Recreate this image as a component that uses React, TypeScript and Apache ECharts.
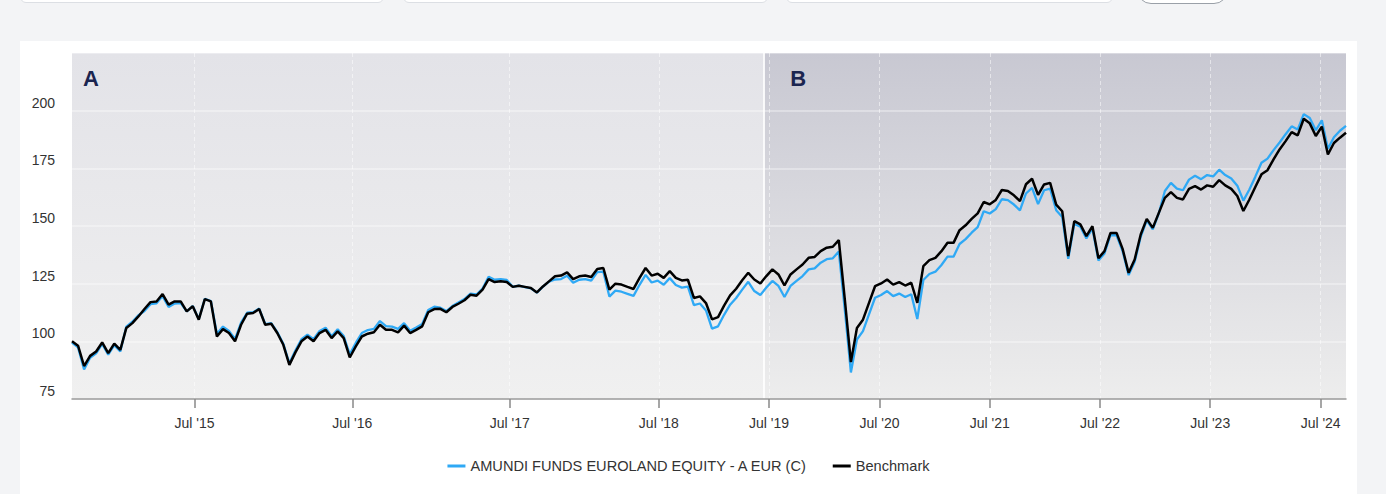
import React, { useEffect, useRef } from "react";
import * as echarts from "echarts";

// ---------- data ----------
const SERIES_NAMES = ["AMUNDI FUNDS EUROLAND EQUITY - A EUR (C)", "Benchmark"];

// observation calendar: early history sampled on calendar days, later on business days
const START_DATE = "2014-09-20";
const DENSE_STEP_DAYS = 14;
const DENSE_POINTS = 95;
const SPARSE_STEP_DAYS = 20;
const SPARSE_POINTS = 117;

const TICK_DATES = [
  "2015-07-01", "2016-07-01", "2017-07-01", "2018-07-01", "2019-07-01",
  "2020-07-01", "2021-07-01", "2022-07-01", "2023-07-01", "2024-07-01",
];
const TICK_LABELS = [
  "Jul '15", "Jul '16", "Jul '17", "Jul '18", "Jul '19",
  "Jul '20", "Jul '21", "Jul '22", "Jul '23", "Jul '24",
];

const Y_MIN = 75;
const Y_MAX = 225;
const Y_STEP = 25;

const PERIOD_LABELS = ["A", "B"];
const PERIOD_SPLIT_DATE = "2019-06-12";

const FUND = [
  99.5, 97.4, 87.8, 92.9, 94.8, 98.9, 94.2, 98.3, 95.6, 106.4,
  108.5, 111.3, 113.1, 116.1, 116.5, 119.6, 114.9, 116.4, 116.6, 113.0,
  115.3, 109.6, 118.4, 117.5, 103.2, 106.4, 104.5, 101.0, 108.1, 112.4,
  112.6, 114.2, 107.5, 107.9, 104.0, 98.9, 90.5, 96.0, 100.9, 102.9,
  100.9, 104.5, 105.9, 102.2, 105.2, 102.3, 94.4, 99.3, 103.6, 104.9,
  105.4, 108.8, 106.6, 106.4, 105.4, 107.9, 104.6, 106.0, 107.5, 113.6,
  115.0, 114.6, 113.1, 115.3, 116.8, 118.3, 120.7, 120.3, 122.9, 128.0,
  126.7, 127.0, 126.6, 123.7, 124.1, 123.5, 123.0, 121.1, 123.7, 125.9,
  126.8, 127.0, 128.4, 125.4, 126.7, 127.0, 126.3, 130.0, 130.2, 119.4,
  122.0, 121.5, 120.6, 119.7, 124.5, 128.8, 125.5, 126.3, 124.5, 127.4,
  124.4, 123.3, 123.7, 115.7, 116.4, 113.4, 105.5, 106.5, 111.5, 115.9,
  118.8, 122.4, 125.8, 121.8, 120.1, 123.3, 126.2, 124.0, 119.2, 124.0,
  126.2, 128.3, 131.2, 131.6, 134.1, 135.6, 136.0, 138.9, 113.5, 86.5,
  100.8, 104.4, 111.7, 118.9, 120.1, 121.8, 119.6, 120.7, 119.2, 120.4,
  109.7, 126.6, 129.2, 130.2, 133.1, 136.7, 136.7, 142.2, 144.3, 147.1,
  149.5, 156.4, 155.4, 157.3, 161.6, 161.2, 159.3, 156.8, 164.1, 166.5,
  159.5, 165.5, 166.2, 156.8, 153.9, 135.8, 150.9, 149.7, 144.6, 148.9,
  135.0, 138.1, 146.0, 146.0, 139.1, 128.7, 134.5, 145.3, 152.4, 148.6,
  155.5, 165.2, 168.7, 166.2, 165.5, 170.1, 171.8, 170.3, 172.1, 171.5,
  174.4, 172.1, 170.6, 167.5, 161.0, 165.8, 171.5, 177.4, 179.2, 182.9,
  186.2, 189.8, 193.2, 191.8, 198.5, 196.8, 191.5, 195.8, 183.5, 188.5,
  191.3, 193.4,
];

const BENCHMARK = [
  100.0, 98.1, 89.3, 93.7, 95.6, 99.5, 94.9, 99.0, 96.3, 105.8,
  107.9, 110.8, 114.0, 117.0, 117.3, 120.5, 115.9, 117.3, 117.3, 113.0,
  115.2, 109.4, 118.3, 117.3, 102.1, 105.3, 103.6, 100.0, 107.2, 112.0,
  112.3, 114.0, 107.2, 107.6, 103.6, 98.5, 89.8, 95.2, 100.0, 102.1,
  100.0, 103.6, 105.0, 101.4, 104.3, 101.4, 93.0, 97.8, 102.1, 103.3,
  103.9, 107.2, 105.0, 105.0, 103.9, 106.8, 103.6, 105.0, 106.5, 112.6,
  114.0, 114.1, 112.6, 114.9, 116.3, 117.8, 120.2, 119.8, 122.4, 127.0,
  125.7, 126.0, 125.7, 123.6, 124.1, 123.6, 123.1, 121.2, 123.8, 126.0,
  128.2, 128.5, 129.9, 127.0, 128.2, 128.5, 127.9, 131.4, 131.8, 122.4,
  125.0, 124.6, 123.6, 122.7, 127.5, 131.8, 128.5, 129.3, 127.5, 130.4,
  127.5, 126.4, 126.7, 118.8, 119.5, 116.6, 109.5, 110.5, 115.5, 119.9,
  122.8, 126.5, 129.7, 126.8, 125.1, 128.3, 131.2, 129.0, 124.2, 129.0,
  131.2, 133.3, 136.2, 136.6, 139.1, 140.6, 141.0, 143.9, 118.0, 91.0,
  105.8, 109.4, 116.7, 123.9, 125.1, 126.8, 124.6, 125.7, 124.2, 125.4,
  116.7, 132.6, 135.2, 136.2, 139.1, 142.7, 142.7, 148.2, 150.3, 153.1,
  155.5, 160.4, 159.4, 161.3, 165.6, 165.2, 163.3, 160.8, 168.1, 170.5,
  163.5, 168.0, 168.7, 159.3, 156.4, 137.0, 152.1, 150.7, 145.6, 149.9,
  136.0, 139.1, 147.0, 147.0, 140.1, 129.7, 135.5, 146.3, 153.1, 149.2,
  155.7, 162.2, 164.7, 162.2, 161.5, 166.1, 167.3, 165.8, 167.6, 167.0,
  169.9, 167.6, 166.1, 163.0, 156.5, 161.5, 167.0, 172.4, 174.2, 178.9,
  183.2, 186.8, 190.7, 189.3, 196.5, 194.5, 189.0, 193.1, 181.0, 186.0,
  188.3, 190.4,
];

// ---------- helpers ----------
const DAY_MS = 86400000;
function buildDates(): number[] {
  const t0 = Date.parse(START_DATE + "T00:00:00Z");
  const out: number[] = [];
  for (let i = 0; i < DENSE_POINTS; i++) out.push(t0 + i * DENSE_STEP_DAYS * DAY_MS);
  const last = out[out.length - 1];
  for (let k = 1; k <= SPARSE_POINTS; k++) out.push(last + k * SPARSE_STEP_DAYS * DAY_MS);
  return out;
}
const DATES = buildDates();

// ordinal position (like an ordinal time axis): index within the observation list
function ordinalOf(dateStr: string): number {
  const t = Date.parse(dateStr + "T00:00:00Z");
  if (t <= DATES[0]) return 0;
  for (let i = 0; i < DATES.length - 1; i++) {
    if (t >= DATES[i] && t <= DATES[i + 1]) {
      return i + (t - DATES[i]) / (DATES[i + 1] - DATES[i]);
    }
  }
  return DATES.length - 1;
}

const FONT = "'Liberation Sans', Arial, Helvetica, sans-serif";

export default function App() {
  const ref = useRef<HTMLDivElement>(null);

  useEffect(() => {
    if (!ref.current) return;
    const chart = echarts.init(ref.current, undefined, { renderer: "svg" });

    const tickPos = TICK_DATES.map(ordinalOf);
    const lastIdx = DATES.length - 1;
    const splitIdx = ordinalOf(PERIOD_SPLIT_DATE);
    const labelFor = (v: number) => {
      let best = 0;
      for (let i = 1; i < tickPos.length; i++) {
        if (Math.abs(tickPos[i] - v) < Math.abs(tickPos[best] - v)) best = i;
      }
      return TICK_LABELS[best];
    };

    const gradA = new echarts.graphic.LinearGradient(0, 0, 0, 1, [
      { offset: 0, color: "#e3e3e8" },
      { offset: 1, color: "#f0f0f0" },
    ]);
    const gradB = new echarts.graphic.LinearGradient(0, 0, 0, 1, [
      { offset: 0, color: "#c8c8d2" },
      { offset: 1, color: "#ededed" },
    ]);
    const periodLabel = (text: string, dx: number) => ({
      show: true,
      formatter: text,
      position: "insideTopLeft",
      distance: 0,
      offset: [dx, 14],
      color: "#1b2550",
      fontSize: 22,
      fontWeight: "bold",
      fontFamily: FONT,
      lineHeight: 22,
    });

    chart.setOption({
      animation: false,
      textStyle: { fontFamily: FONT },
      grid: { left: 52, right: 11, top: 12, bottom: 95, outerBoundsMode: "none" },
      legend: {
        top: 412,
        left: "center",
        icon: "rect",
        itemWidth: 18,
        itemHeight: 3,
        itemGap: 25,
        textStyle: { fontSize: 14.6, color: "#333", fontFamily: FONT, lineHeight: 16 },
        data: SERIES_NAMES,
      },
      xAxis: {
        type: "value",
        min: 0,
        max: lastIdx,
        z: 1,
        axisLine: { show: true, lineStyle: { color: "#999", width: 1.5 } },
        axisTick: {
          show: true,
          customValues: tickPos,
          length: 9,
          lineStyle: { color: "#888", width: 1.5 },
        },
        axisLabel: {
          customValues: tickPos,
          formatter: (v: number) => labelFor(v),
          margin: 17,
          fontSize: 14,
          color: "#333",
          fontFamily: FONT,
        },
        splitLine: {
          show: true,
          lineStyle: { color: "rgba(255,255,255,0.5)", width: 1, type: [4, 3] },
        },
      },
      yAxis: {
        type: "value",
        min: Y_MIN,
        max: Y_MAX,
        interval: Y_STEP,
        z: 1,
        axisLine: { show: false },
        axisTick: { show: false },
        axisLabel: {
          margin: 17,
          fontSize: 14,
          color: "#333",
          fontFamily: FONT,
          verticalAlign: "bottom",
          lineHeight: 16,
          formatter: (v: number) => (v >= Y_MAX ? "" : String(v)),
        },
        splitLine: { show: true, lineStyle: { color: "rgba(255,255,255,0.45)", width: 1.5 } },
      },
      series: [
        {
          name: SERIES_NAMES[0],
          type: "line",
          z: 2,
          showSymbol: false,
          symbol: "none",
          color: "#2fa9f5",
          lineStyle: { width: 2.3, color: "#2fa9f5" },
          data: FUND.map((v, i) => [i, v]),
          markArea: {
            silent: true,
            z: 0,
            data: [
              [
                { xAxis: 0, itemStyle: { color: gradA }, label: periodLabel(PERIOD_LABELS[0], 11) },
                { xAxis: splitIdx },
              ],
              [
                { xAxis: splitIdx, itemStyle: { color: gradB }, label: periodLabel(PERIOD_LABELS[1], 27) },
                { xAxis: lastIdx },
              ],
            ],
          },
          markLine: {
            silent: true,
            symbol: "none",
            z: 1,
            label: { show: false },
            lineStyle: { color: "rgba(255,255,255,0.85)", width: 2, type: "solid" },
            data: [{ xAxis: splitIdx }],
          },
        },
        {
          name: SERIES_NAMES[1],
          type: "line",
          z: 3,
          showSymbol: false,
          symbol: "none",
          color: "#000000",
          lineStyle: { width: 2.5, color: "#000000" },
          data: BENCHMARK.map((v, i) => [i, v]),
        },
      ],
    });

    return () => chart.dispose();
  }, []);

  const box = (left: number, width: number): React.CSSProperties => ({
    position: "absolute",
    left,
    top: -30,
    width,
    height: 33,
    background: "#fff",
    border: "1px solid #dcdfe4",
    borderRadius: 6,
    boxSizing: "border-box",
  });

  return (
    <div
      style={{
        position: "fixed",
        left: 0,
        top: 0,
        width: 1386,
        height: 494,
        background: "#f3f4f6",
        overflow: "hidden",
      }}
    >
      <div style={box(20, 364)} />
      <div style={box(403, 365)} />
      <div style={box(786, 327)} />
      <div
        style={{
          position: "absolute",
          left: 1137,
          top: -30,
          width: 91,
          height: 34,
          background: "#fff",
          border: "1.5px solid #9aa0a8",
          borderRadius: 14,
          boxSizing: "border-box",
        }}
      />
      <div
        style={{
          position: "absolute",
          left: 20,
          top: 41,
          width: 1337,
          height: 453,
          background: "#fff",
        }}
      >
        <div ref={ref} style={{ width: 1337, height: 453 }} />
      </div>
    </div>
  );
}
